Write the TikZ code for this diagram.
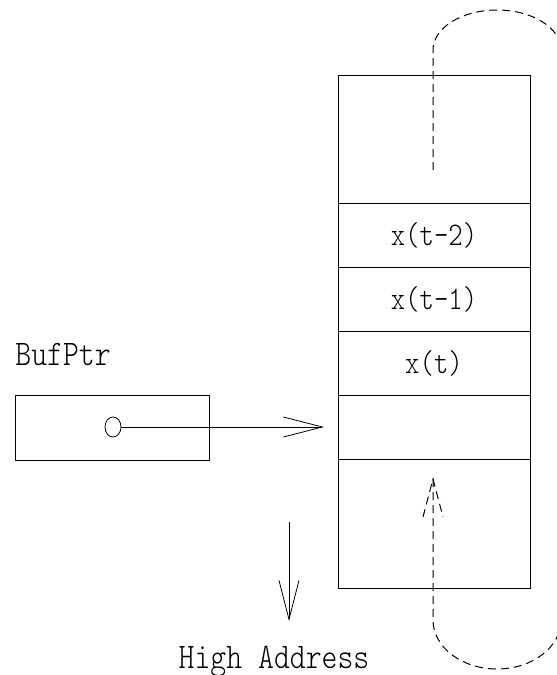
\documentclass[tikz,border=0pt]{standalone}
\usepackage{fontspec}
\usetikzlibrary{positioning,arrows.meta,shapes.geometric}

\newfontfamily\cellfont{lmmonolt10-regular}[Extension=.otf, FakeStretch=0.83]
\newfontfamily\labelfont{lmmonolt10-regular}[Extension=.otf, FakeStretch=0.84]

\tikzset{every picture/.style={line width=0.8pt}}
\tikzset{
  cell/.style={draw, minimum width=192pt, inner sep=0pt, outer sep=0pt, font=\cellfont\fontsize{33}{38}\selectfont},
  lbl/.style={inner sep=0pt, font=\labelfont\fontsize{36}{40}\selectfont},
  ptr/.style={-{Straight Barb[length=39pt,width=20pt]}},
  wrap/.style={line width=1pt, dash pattern={on 8pt off 5pt}}
}

\begin{document}
\begin{tikzpicture}[x=1pt,y=1pt,yscale=-1,xscale=1]
\useasboundingbox (0,0) rectangle (557,675);

%Shape: stack of samples
\node [cell, minimum height=128pt, anchor=north west] (free) at (338,75) {};
\node [cell, minimum height=64pt, below=0pt of free] (xtm2) {x(t-2)};
\node [cell, minimum height=64pt, below=0pt of xtm2] (xtm1) {x(t-1)};
\node [cell, minimum height=64pt, below=0pt of xtm1] (xt) {x(t)};
\node [cell, minimum height=64pt, below=0pt of xt] (slot) {};
\node [cell, minimum height=129pt, below=0pt of slot] (old) {};

%Shape: pointer box
\node [draw, minimum width=194pt, minimum height=65pt, inner sep=0pt, anchor=north west] (bufbox) at (15,395) {};
\node [draw, ellipse, minimum width=16pt, minimum height=20pt, inner sep=0pt] (cur) at (113,427) {};
% Text Node
\node [lbl, anchor=base west] (bufname) at (15,365) {BufPtr};

%Straight Lines: pointer into the buffer
\draw [ptr] (cur.east) -- ([xshift=-14pt]slot.west);

%Straight Lines: direction of addresses
\coordinate (dirtop) at (289,522);
\coordinate (dirend) at (289,621);
\draw [ptr] (dirtop) -- (dirend);
% Text Node
\node [lbl, anchor=base] (high) at (274,668) {High Address};

%Curve Lines: wrap around at both ends
\coordinate (wraptop) at (433,170);
\draw [wrap] (wraptop) -- (433,50) arc[start angle=180, end angle=360, x radius=64, y radius=40];
\coordinate (wraptip) at (433,479);
\draw [wrap] (423,517) -- (wraptip) -- (443,517);
\draw [wrap] (wraptip) -- (433,620) arc[start angle=180, end angle=0, x radius=64, y radius=49];

\end{tikzpicture}
\end{document}
